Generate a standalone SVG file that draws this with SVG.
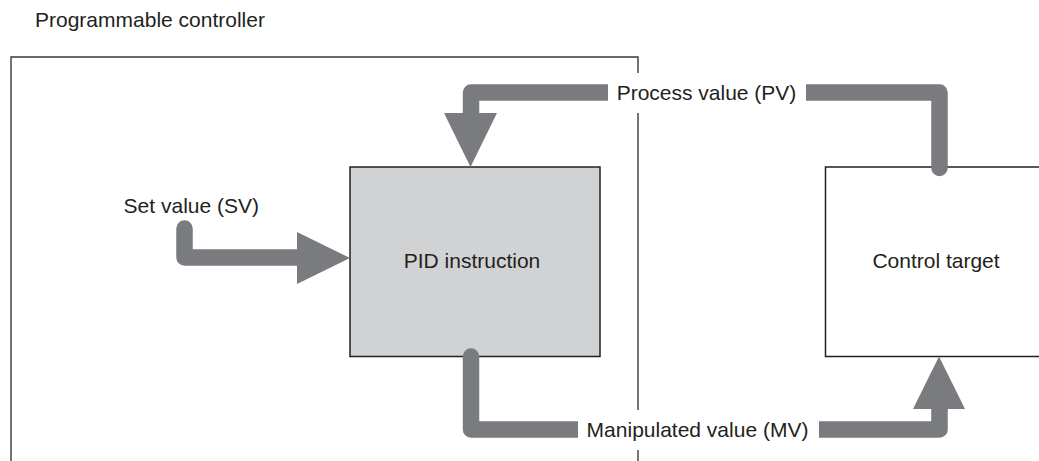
<svg xmlns="http://www.w3.org/2000/svg" width="1039" height="461" viewBox="0 0 1039 461">
<style>
text{font-family:"Liberation Sans",Arial,sans-serif;font-size:21px;fill:#231f20}
.box{stroke:#231f20;stroke-width:1.5}
.flow{fill:none;stroke:#7a7b7f;stroke-width:16.5;stroke-linejoin:round;stroke-linecap:round}
.head{fill:#7a7b7f}
.mask{fill:#ffffff}
</style>
<rect width="1039" height="461" fill="#ffffff"/>
<g id="programmable-controller">
<path d="M11,461 V57 H638 V461" fill="none" stroke="#3a3a3a" stroke-width="1.4"/>
<text x="35" y="27">Programmable controller</text>
</g>
<g id="pid-instruction">
<rect class="box" x="350" y="167" width="250" height="189.5" fill="#d1d2d4"/>
<text x="472" y="268" text-anchor="middle">PID instruction</text>
</g>
<g id="control-target">
<rect class="box" x="825.5" y="167" width="230" height="189.5" fill="#ffffff"/>
<text x="936" y="268" text-anchor="middle">Control target</text>
</g>
<g id="connectors">
<path class="flow" d="M939.5,168 V92.5 H471 V125"/>
<polygon class="head" points="444,113 497,113 470.5,167"/>
<path class="flow" d="M184.5,228.5 V257.5 H305"/>
<polygon class="head" points="297,232 297,284 350,258"/>
<path class="flow" d="M471,356.5 V429.5 H939.5 V400"/>
<polygon class="head" points="913,409 965,409 939,356.5"/>
</g>
<g id="label-sv">
<text x="259" y="213" text-anchor="end">Set value (SV)</text>
</g>
<g id="label-pv">
<rect class="mask" x="608" y="73" width="198" height="40"/>
<text x="706.5" y="100" text-anchor="middle">Process value (PV)</text>
</g>
<g id="label-mv">
<rect class="mask" x="578" y="410" width="241" height="40"/>
<text x="697.5" y="437" text-anchor="middle">Manipulated value (MV)</text>
</g>
</svg>
